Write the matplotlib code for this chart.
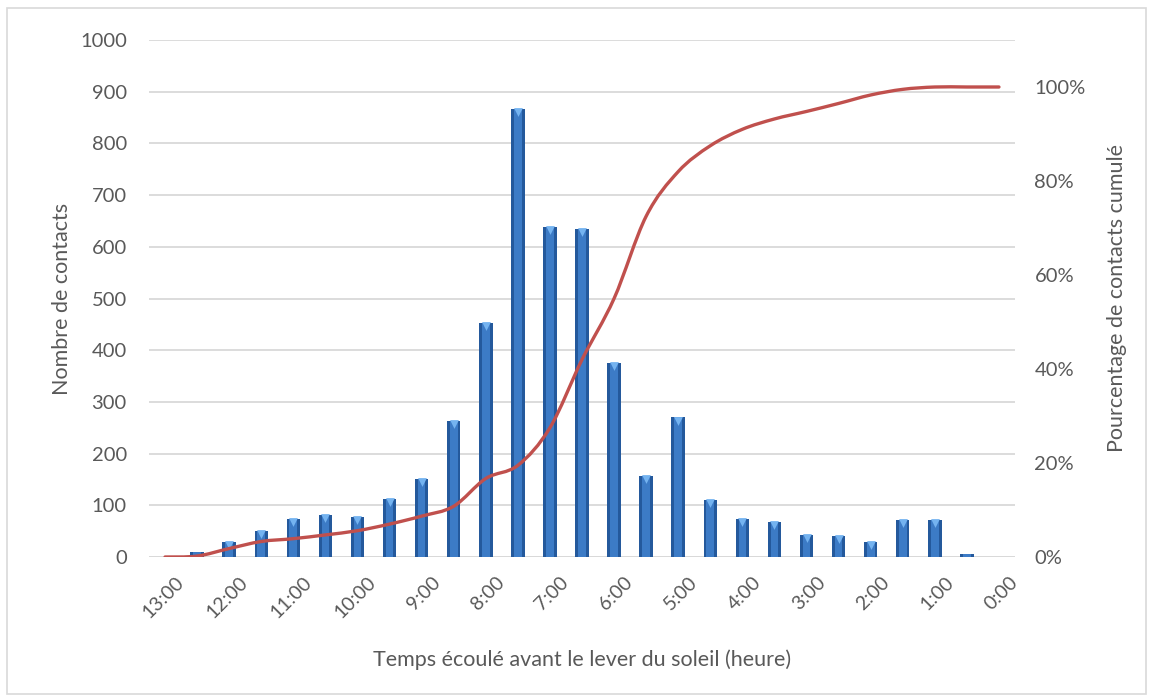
import matplotlib as mpl
mpl.use('Agg')
import matplotlib.pyplot as plt
import matplotlib.transforms as mtransforms
from matplotlib.path import Path
from matplotlib.patches import PathPatch, Rectangle
from matplotlib.ticker import FuncFormatter
import numpy as np

plt.rcParams['font.family'] = ['Lato', 'DejaVu Sans']

# categories every half hour, labels shown every hour
hours = ['13:00', '12:30', '12:00', '11:30', '11:00', '10:30', '10:00', '9:30',
         '9:00', '8:30', '8:00', '7:30', '7:00', '6:30', '6:00', '5:30', '5:00',
         '4:30', '4:00', '3:30', '3:00', '2:30', '2:00', '1:30', '1:00', '0:30', '0:00']
contacts = [0, 10, 29, 50, 73, 82, 77, 112, 151, 263, 453, 866, 638, 634, 375,
            157, 270, 110, 73, 67, 43, 41, 29, 71, 71, 5, 0]
cumul_pct = [0.0, 0.2, 1.8, 3.3, 3.9, 4.7, 5.6, 7.0, 8.7, 10.8, 16.7, 19.5, 27.5,
             42.0, 55.0, 72.5, 82.0, 87.5, 91.0, 93.2, 94.8, 96.5, 98.3, 99.5,
             100.0, 100.0, 100.0]

txt = '#595959'
grid_c = '#D9D9D9'

fig = plt.figure(figsize=(11.52, 6.98), dpi=100)
ax = fig.add_axes([149/1152, 1-557/698, (1015-149)/1152, (557-40)/698])
ax2 = ax.twinx()

x = np.arange(len(hours))
vals = np.array(contacts, dtype=float)
has = vals > 0

# bars: dark outer + lighter core + bevel triangle on top
ax.bar(x[has], vals[has], width=0.42, color='#24599C', linewidth=0, zorder=2)
ax.bar(x[has], vals[has], width=0.24, color='#3C7BC6', linewidth=0, zorder=3)
ax.scatter(x[has & (vals > 15)], vals[has & (vals > 15)] - 6, marker='v', s=40,
           color='#74B3F0', linewidths=0, zorder=4)

ax.set_xlim(-0.5, len(hours) - 0.5)
ax.set_ylim(0, 1000)
ax.set_yticks(np.arange(0, 1001, 100))
ax.yaxis.grid(True, color=grid_c, linewidth=1.3)
ax.set_axisbelow(True)
for s in ax.spines.values():
    s.set_visible(False)
for s in ax2.spines.values():
    s.set_visible(False)
ax.axhline(0, color=grid_c, linewidth=1.3, zorder=1)

ax.set_xticks(x[::2])
ax.set_xticklabels(hours[::2], rotation=45, ha='right', rotation_mode='anchor')
ax.tick_params(axis='x', length=0, pad=12, labelsize=14, labelcolor=txt)
ax.tick_params(axis='y', length=0, pad=16, labelsize=14.5, labelcolor=txt)
shift = mtransforms.ScaledTranslation(10/100, 0, fig.dpi_scale_trans)
for lab in ax.get_xticklabels():
    lab.set_transform(lab.get_transform() + shift)

ax.set_ylabel('Nombre de contacts', fontsize=15.5, color=txt, labelpad=6)
ax.set_xlabel('Temps écoulé avant le lever du soleil (heure)', fontsize=15.5,
              color=txt, labelpad=20)

# cumulative line, smoothed like the spreadsheet (Catmull-Rom -> Bezier)
yv = np.array(cumul_pct) / 100.0
pts = np.column_stack([x, yv])
ext = np.vstack([pts[0], pts, pts[-1]])
verts = [tuple(pts[0])]
codes = [Path.MOVETO]
for k in range(1, len(ext) - 2):
    p0, p1, p2, p3 = ext[k-1], ext[k], ext[k+1], ext[k+2]
    c1 = p1 + (p2 - p0) / 6.0
    c2 = p2 - (p3 - p1) / 6.0
    verts += [tuple(c1), tuple(c2), tuple(p2)]
    codes += [Path.CURVE4] * 3
ax2.add_patch(PathPatch(Path(verts, codes), facecolor='none', edgecolor='#C0504D',
                        linewidth=2.4, capstyle='round', zorder=5))

ax2.set_ylim(0, 1.1)
ax2.set_yticks(np.arange(0, 1.01, 0.2))
ax2.yaxis.set_major_formatter(FuncFormatter(lambda v, p: '{:.0f}%'.format(v * 100)))
ax2.tick_params(axis='y', length=0, pad=14, labelsize=14.5, labelcolor=txt)
ax2.set_ylabel('Pourcentage de contacts cumulé', fontsize=15.5, color=txt, labelpad=15)

# chart border
fig.patches.append(Rectangle((7/1152, 4/698), 1139/1152, 686/698, transform=fig.transFigure,
                             fill=False, edgecolor='#D9D9D9', linewidth=1.2))

fig.savefig('out.png', dpi=100)
